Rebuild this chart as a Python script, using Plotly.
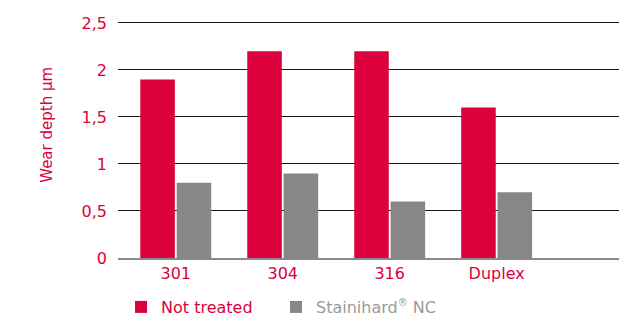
import plotly.graph_objects as go

categories = ["301", "304", "316", "Duplex"]
not_treated = [1.9, 2.2, 2.2, 1.6]
stainihard = [0.8, 0.9, 0.6, 0.7]
y_tickvals = [0, 0.5, 1, 1.5, 2, 2.5]
y_ticktext = ["0", "0,5", "1", "1,5", "2", "2,5"]

RED = "#DC003C"
GRAY = "#878787"
FONT = "DejaVu Sans"

fig = go.Figure()
fig.add_trace(go.Bar(x=categories, y=not_treated, name="Not treated",
                     marker=dict(color=RED, line=dict(width=0)), legend="legend"))
fig.add_trace(go.Bar(x=categories, y=stainihard,
                     name="<span style='color:#9a9a9a'>Stainihard<sup><span style='font-size:10px'>®</span></sup> NC</span>",
                     marker=dict(color=GRAY, line=dict(width=0)), legend="legend2"))

leg_common = dict(orientation="h", xanchor="left", y=-0.2068, yanchor="middle",
                  font=dict(family=FONT, size=16, color=RED),
                  bgcolor="rgba(0,0,0,0)")

# page body has an 8px default margin, so the figure is 8px smaller
fig.update_layout(
    width=619, height=307,
    margin=dict(l=110, r=2, t=13, b=57, autoexpand=False),
    paper_bgcolor="white", plot_bgcolor="white",
    barmode="group", bargap=0.32, bargroupgap=0.05,
    font=dict(family=FONT, size=16, color=RED),
    showlegend=True,
    legend=dict(x=0.006, **leg_common),
    legend2=dict(x=0.3116, **leg_common),
    xaxis=dict(type="category", range=[-0.54, 4.2], showgrid=False,
               showline=True, linecolor="#8a8a8a", linewidth=1.5,
               ticks="", tickfont=dict(family=FONT, size=16, color=RED),
               zeroline=False, automargin=False),
    yaxis=dict(range=[0, 2.521], tickvals=y_tickvals, ticktext=y_ticktext,
               showgrid=True, gridcolor="#1a1a1a", gridwidth=1,
               zeroline=False, showline=False, ticks="",
               ticklabelstandoff=10, automargin=False,
               tickfont=dict(family=FONT, size=16, color=RED)),
    annotations=[dict(text="Wear depth µm", textangle=-90, xref="paper", yref="paper",
                      x=-0.14, y=0.562, xanchor="center", yanchor="middle",
                      showarrow=False, font=dict(family=FONT, size=15, color=RED))],
)

fig.write_html("out.html")
